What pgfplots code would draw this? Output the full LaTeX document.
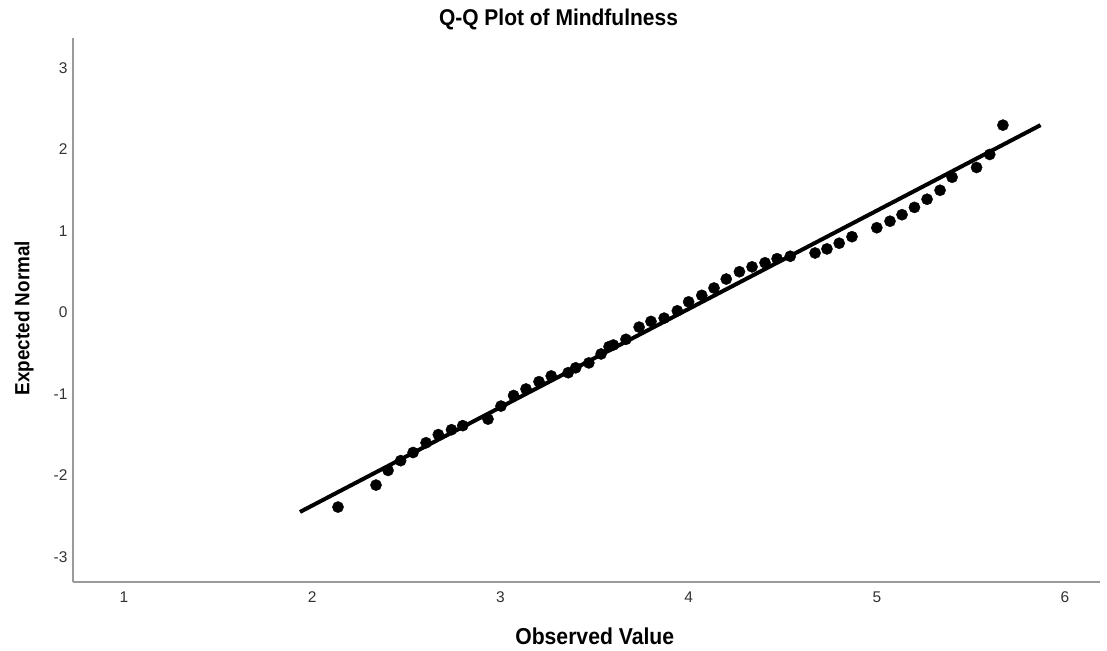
\documentclass[border=0pt]{standalone}
\usepackage{pgfplots}
\pgfplotsset{compat=1.18}
\usepackage{fontspec}
\setmainfont{Liberation Sans}
\newfontfamily\labelfont{Liberation Sans}[FakeStretch=0.92]
\definecolor{axisgray}{HTML}{9A9A9A}
\definecolor{ticktext}{HTML}{333333}
\begin{document}
\begin{tikzpicture}
\path[use as bounding box] (-73pt,-68pt) rectangle (1034pt,582pt);
\begin{axis}[
  scale only axis,
  width=1027pt, height=544pt,
  xmin=0.729, xmax=6.186,
  ymin=-3.31, ymax=3.37,
  axis x line*=bottom, axis y line*=left,
  axis line style={axisgray, line width=1.8pt, -},
  xtick={1,2,3,4,5,6}, ytick={-3,-2,-1,0,1,2,3},
  major tick length=0pt,
  tick label style={text=ticktext, font=\fontsize{15.5}{17}\selectfont},
  /pgf/number format/assume math mode=true,
  xticklabel style={yshift=-6pt},
  yticklabel style={xshift=-2pt},
  title={Q-Q Plot of Mindfulness},
  title style={font=\labelfont\bfseries\fontsize{22.8}{25}\selectfont,
    at={(0.4727,1)}, anchor=base, yshift=6.8pt},
  xlabel={Observed Value},
  ylabel={Expected Normal},
  xlabel style={font=\labelfont\bfseries\fontsize{23}{25}\selectfont,
    at={(0.508,0)}, anchor=base, yshift=-62.6pt},
  ylabel style={font=\labelfont\bfseries\fontsize{20.5}{23}\selectfont,
    at={(0,0.485)}, anchor=base, yshift=43.7pt},
  clip=false,
]
% reference line of the expected normal quantiles
\addplot[black, line width=4pt, no marks] coordinates {(1.935,-2.45) (5.87,2.30)};
% observed vs expected values
\addplot[only marks, mark=*, mark size=5.6pt, black] coordinates {
(2.137,-2.39) (2.339,-2.12) (2.403,-1.94) (2.470,-1.82) (2.536,-1.72)
(2.605,-1.60) (2.670,-1.50) (2.740,-1.44) (2.800,-1.39) (2.934,-1.31)
(3.003,-1.15) (3.070,-1.02) (3.136,-0.94) (3.205,-0.85) (3.270,-0.78)
(3.360,-0.74) (3.400,-0.68) (3.470,-0.62) (3.535,-0.51) (3.577,-0.42)
(3.600,-0.40) (3.667,-0.33) (3.737,-0.18) (3.800,-0.11) (3.870,-0.07)
(3.940,0.02) (4.000,0.13) (4.070,0.21) (4.135,0.30) (4.200,0.41)
(4.270,0.50) (4.337,0.56) (4.406,0.61) (4.470,0.66) (4.540,0.69)
(4.672,0.73) (4.735,0.78) (4.800,0.85) (4.868,0.93) (5.000,1.04)
(5.070,1.12) (5.134,1.20) (5.200,1.29) (5.267,1.39) (5.336,1.50)
(5.400,1.66) (5.530,1.78) (5.600,1.94) (5.670,2.30)
};
\end{axis}
\end{tikzpicture}
\end{document}
